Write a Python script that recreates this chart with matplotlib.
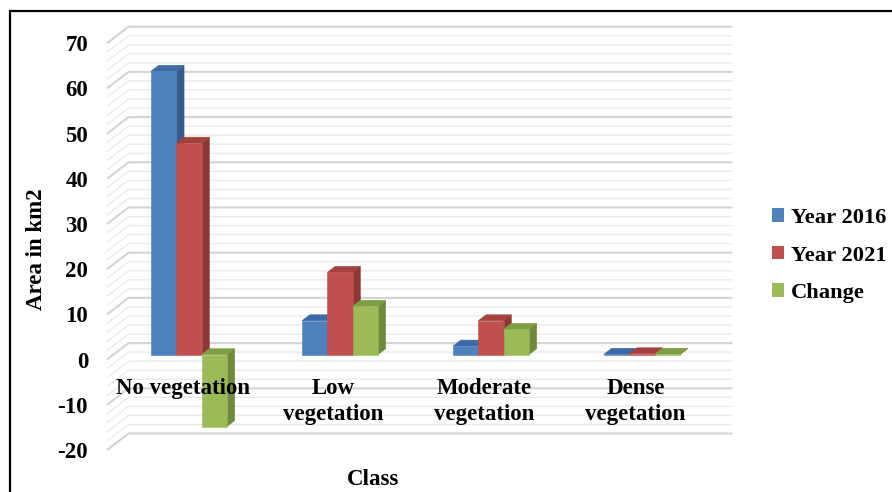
import matplotlib
matplotlib.use("Agg")
import matplotlib.pyplot as plt
from matplotlib.patches import Polygon, Patch, Rectangle
import matplotlib.transforms as mtransforms

# ---- data -------------------------------------------------------------
categories = ["No vegetation", "Low\nvegetation", "Moderate\nvegetation", "Dense\nvegetation"]
series_names = ["Year 2016", "Year 2021", "Change"]
year_2016 = [62.7, 7.5, 1.9, 0.1]
year_2021 = [46.8, 18.2, 7.5, 0.2]
change = [-15.9, 10.7, 5.6, 0.1]
y_ticks = list(range(-20, 71, 10))

series = [year_2016, year_2021, change]

# face colours: front, right side, top
front_col = ["#4F81BD", "#C0504D", "#9BBB59"]
side_col = ["#385D8A", "#8A3735", "#6F8A3C"]
top_col = ["#3E6BA6", "#A4403D", "#7E9E44"]

plt.rcParams["font.family"] = ["Liberation Serif", "DejaVu Serif"]
plt.rcParams["font.weight"] = "bold"

W, H = 892, 492
fig = plt.figure(figsize=(W / 100, H / 100), dpi=100)

# front plane of the 3-D box (pixels)
x0, x1 = 107, 711
y_top, y_bot = 43.2, 450
ax = fig.add_axes([x0 / W, 1 - y_bot / H, (x1 - x0) / W, (y_bot - y_top) / H])
ax.set_xlim(-0.5, len(categories) - 0.5)
ax.set_ylim(-20, 70)
ax.axis("off")

ux = len(categories) / (x1 - x0)   # category units per pixel
uy = 90 / (y_bot - y_top)          # value units per pixel
DX = 21.5 * ux                     # depth of the box
DY = 16.5 * uy


def proj(x, y, d):
    return (x + d * DX, y + d * DY)


# ---- walls: gridlines on side wall and back wall -------------------------
xl_box, xr_box = -0.5, len(categories) - 0.5
for v in range(-20, 71, 2):
    major = v % 10 == 0
    ax.plot([xl_box, xl_box + DX, xr_box + DX], [v, v + DY, v + DY],
            color="#d4d4d4" if major else "#ebebeb",
            lw=1.5 if major else 1.0, clip_on=False, zorder=1,
            solid_capstyle="butt")

# ---- 3-D bars ---------------------------------------------------------------
bw = 25.3 * ux
f0, f1 = 0.30, 0.66
z = 3
for i in range(len(categories)):
    for s, vals in enumerate(series):
        v = vals[i]
        xl = i - 1.5 * bw + s * bw
        xr = xl + bw
        yt = max(v, 0)
        side = [proj(xr, 0, f0), proj(xr, v, f0), proj(xr, v, f1), proj(xr, 0, f1)]
        topf = [proj(xl, yt, f0), proj(xr, yt, f0), proj(xr, yt, f1), proj(xl, yt, f1)]
        frontf = [proj(xl, 0, f0), proj(xr, 0, f0), proj(xr, v, f0), proj(xl, v, f0)]
        for pts, c in ((side, side_col[s]), (topf, top_col[s]), (frontf, front_col[s])):
            ax.add_patch(Polygon(pts, closed=True, fc=c, ec=c, lw=0.4,
                                 clip_on=False, zorder=z))
            z += 1

# ---- axis labels ------------------------------------------------------------
tick_tr = mtransforms.offset_copy(ax.transData, fig=fig, x=-19, y=0, units="dots")
for v in y_ticks:
    ax.text(xl_box, v, f"{v}", transform=tick_tr, ha="right", va="center_baseline",
            fontsize=16.5, fontweight="bold")

for i, cat in enumerate(categories):
    ax.text(i, -18.5 * uy, cat, ha="center", va="top", fontsize=16.5,
            fontweight="bold", linespacing=1.3, clip_on=False, zorder=100)

fig.text(37 / W, 1 - 249 / H, "Area in km2", rotation=90, ha="center",
         va="center", fontsize=16.5, fontweight="bold")
fig.text(373 / W, 1 - 485 / H, "Class", ha="center", va="baseline",
         fontsize=16.5, fontweight="bold")

# ---- legend -----------------------------------------------------------------
handles = [Patch(fc=front_col[k], ec="none") for k in range(3)]
fig.legend(handles, series_names, loc="upper left",
           bbox_to_anchor=(772 / W, 1 - 208 / H), frameon=False,
           handlelength=0.55, handleheight=0.55,
           handletextpad=0.3, labelspacing=0.78, borderpad=0,
           borderaxespad=0, prop={"weight": "bold", "size": 16.2})

# ---- chart border -------------------------------------------------------------
fig.add_artist(Rectangle((10 / W, -0.2), 1.2, 1 - 11 / H + 0.2,
                         transform=fig.transFigure, fill=False,
                         ec="black", lw=1.6, zorder=0))

fig.savefig("out.png", dpi=100)
